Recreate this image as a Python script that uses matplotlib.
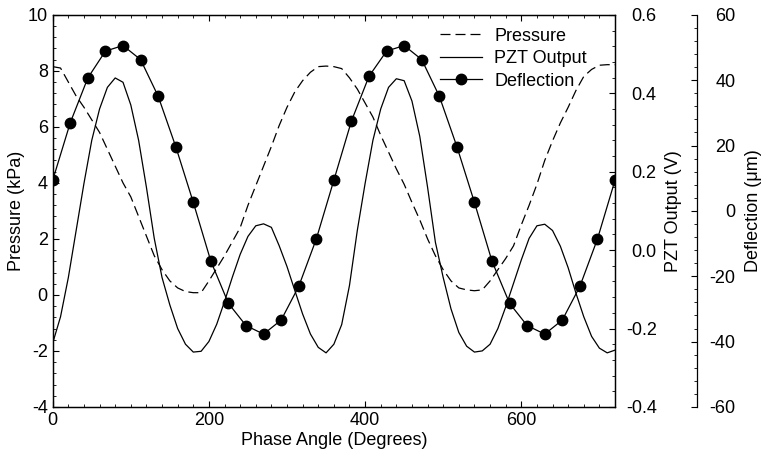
import matplotlib
matplotlib.use("Agg")
import matplotlib.pyplot as plt
import numpy as np
from matplotlib.ticker import MultipleLocator, FormatStrFormatter

plt.rcParams['font.family'] = ['Liberation Sans', 'DejaVu Sans']
plt.rcParams['axes.unicode_minus'] = False

# pressure and PZT output sampled every 10 degrees, 0..720
angle = np.arange(0, 721, 10)
pressure = [8.15, 8.1, 7.6, 7.1, 6.7, 6.25, 5.8, 5.2, 4.6, 4.0,
            3.5, 2.8, 2.1, 1.4, 0.9, 0.5, 0.25, 0.12, 0.08, 0.08,
            0.5, 0.95, 1.4, 1.9, 2.4, 3.2, 3.9, 4.6, 5.3, 6.05,
            6.7, 7.25, 7.65, 7.95, 8.15, 8.17, 8.15,
            8.08, 7.75, 7.35, 6.85, 6.35, 5.7, 5.1, 4.5, 3.95,
            3.3, 2.68, 2.0, 1.4, 0.9, 0.5, 0.25, 0.18, 0.15, 0.18,
            0.5, 0.9, 1.3, 1.75, 2.5, 3.2, 3.95, 4.8, 5.5, 6.14,
            6.7, 7.3, 7.8, 8.05, 8.2, 8.22, 8.22]
pzt = [-0.237, -0.17, -0.07, 0.05, 0.17, 0.28, 0.36, 0.415, 0.439, 0.428,
       0.37, 0.28, 0.16, 0.03, -0.07, -0.14, -0.2, -0.24, -0.26, -0.258,
       -0.233, -0.189, -0.131, -0.069, -0.011, 0.035, 0.062, 0.067, 0.058, 0.011,
       -0.042, -0.103, -0.163, -0.214, -0.248, -0.262, -0.24,
       -0.19, -0.09, 0.05, 0.17, 0.28, 0.36, 0.415, 0.437, 0.432,
       0.38, 0.29, 0.16, 0.02, -0.07, -0.15, -0.21, -0.245, -0.26, -0.257,
       -0.24, -0.2, -0.145, -0.085, -0.025, 0.03, 0.062, 0.066, 0.05, 0.01,
       -0.045, -0.11, -0.17, -0.22, -0.25, -0.262, -0.255]

# deflection measured every 22.5 degrees
defl_angle = np.arange(0, 721, 22.5)
deflection = [9.4, 27.0, 40.7, 48.9, 50.6, 46.3, 35.1, 19.7, 2.6,
              -15.4, -28.3, -35.1, -37.7, -33.4, -23.1, -8.6,
              9.4, 27.5, 41.2, 48.9, 50.6, 46.3, 35.1, 19.7, 2.6,
              -15.4, -28.3, -35.1, -37.7, -33.4, -23.1, -8.6, 9.4]

fs = 13

fig = plt.figure(figsize=(7.64, 4.63), dpi=100)
ax = fig.add_axes([0.069, 0.121, 0.736, 0.847])
par1 = ax.twinx()
par2 = ax.twinx()
par2.spines['right'].set_position(('axes', 1.146))
for s in ['top', 'bottom', 'left']:
    par2.spines[s].set_visible(False)

l1, = ax.plot(angle, pressure, color='black', lw=0.9, dashes=(8, 4), label='Pressure')
l2, = par1.plot(angle, pzt, color='black', lw=0.9, label='PZT Output')
l3, = par2.plot(defl_angle, deflection, color='black', lw=0.9, marker='o',
                markersize=7.5, label='Deflection')

ax.set_xlim(0, 720)
ax.set_ylim(-4, 10)
par1.set_ylim(-0.4, 0.6)
par2.set_ylim(-60, 60)

ax.xaxis.set_major_locator(MultipleLocator(200))
ax.xaxis.set_minor_locator(MultipleLocator(20))
ax.yaxis.set_major_locator(MultipleLocator(2))
ax.yaxis.set_minor_locator(MultipleLocator(0.4))
par1.yaxis.set_major_locator(MultipleLocator(0.2))
par1.yaxis.set_minor_locator(MultipleLocator(0.04))
par1.yaxis.set_major_formatter(FormatStrFormatter('%.1f'))
par2.yaxis.set_major_locator(MultipleLocator(20))
par2.yaxis.set_minor_locator(MultipleLocator(4))

ax.tick_params(which='both', direction='in', top=True, labelsize=fs)
ax.tick_params(which='major', length=4.5)
ax.tick_params(which='minor', length=2.5)
for p in (par1, par2):
    p.tick_params(which='both', direction='in', labelsize=fs)
    p.tick_params(which='major', length=4.5)
    p.tick_params(which='minor', length=2.5)

# right-hand tick labels are right aligned in the original
par1.tick_params(which='major', pad=30)
par2.tick_params(which='major', pad=27.5)
for p in (par1, par2):
    for t in p.get_yticklabels():
        t.set_horizontalalignment('right')

for a in (ax, par1, par2):
    for s in a.spines.values():
        s.set_linewidth(0.9)

ax.set_xlabel('Phase Angle (Degrees)', fontsize=fs, labelpad=2)
ax.set_ylabel('Pressure (kPa)', fontsize=fs, labelpad=2)
par1.set_ylabel('PZT Output (V)', fontsize=fs, labelpad=6)
par2.set_ylabel('Deflection (μm)', fontsize=fs, labelpad=7)

par2.legend(handles=[l1, l2, l3], loc='upper left', bbox_to_anchor=(0.689, 0.967),
            borderaxespad=0, borderpad=0, frameon=False, fontsize=fs,
            handlelength=2.3, labelspacing=0.3, handletextpad=0.7)

fig.savefig('out.png', dpi=100)
